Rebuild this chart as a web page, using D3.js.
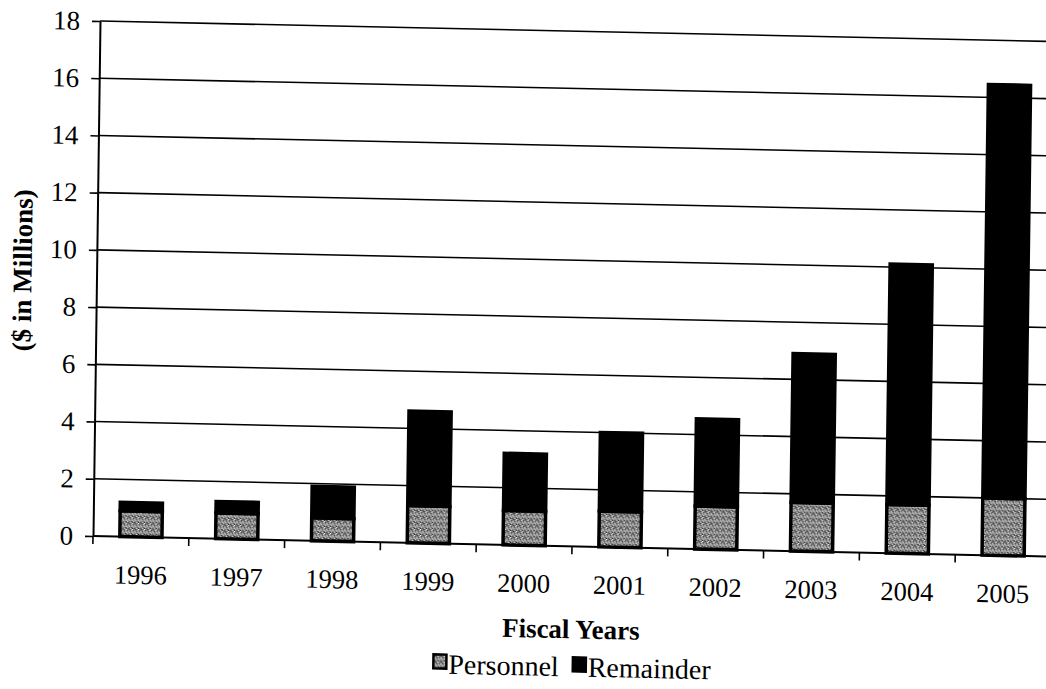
<!DOCTYPE html>
<html>
<head>
<meta charset="utf-8">
<script src="https://cdnjs.cloudflare.com/ajax/libs/d3/7.8.5/d3.min.js"></script>
<style>
  html, body { margin: 0; padding: 0; background: #fff; }
  svg { display: block; }
  svg text { font-family: 'Liberation Serif', 'Times New Roman', Times, 'DejaVu Serif', serif; fill: #000; }
</style>
</head>
<body>
<svg id="chart" width="1046" height="689"></svg>
<script>
// values ($ in millions)
const years = ["1996", "1997", "1998", "1999", "2000", "2001", "2002", "2003", "2004", "2005"];
const personnel = [0.9, 0.9, 0.8, 1.3, 1.2, 1.25, 1.5, 1.7, 1.7, 2.0];
const remainder = [0.3, 0.4, 1.1, 3.3, 2.0, 2.75, 3.05, 5.2, 8.4, 14.45];
const yTicks = [0, 2, 4, 6, 8, 10, 12, 14, 16, 18];
const seriesNames = ["Personnel", "Remainder"];

const serif = "'Liberation Serif', 'Times New Roman', Times, 'DejaVu Serif', serif";
const plotLeft = 93;
const plotRight = 1051;
const plotBottom = 536;
const plotTop = 21;

// the page was scanned a little crooked, so the whole chart is sheared slightly
const skewY = 0.0215;
const skewX = -0.0136;

const svg = d3.select("#chart");

const defs = svg.append("defs");
const pat = defs.append("pattern")
  .attr("id", "stipple")
  .attr("width", 6)
  .attr("height", 6)
  .attr("patternUnits", "userSpaceOnUse");
pat.append("rect").attr("width", 6).attr("height", 6).attr("fill", "#7d7d7d");
const dots = [
  [0, 0, "#fff"], [3, 0, "#222"], [5, 1, "#eee"], [1, 1, "#333"], [2, 2, "#f4f4f4"],
  [4, 2, "#111"], [0, 3, "#ddd"], [3, 3, "#fff"], [5, 4, "#2a2a2a"], [1, 4, "#e8e8e8"],
  [2, 5, "#333"], [4, 5, "#f0f0f0"], [0, 5, "#1c1c1c"], [5, 3, "#cfcfcf"]
];
pat.selectAll(".dot")
  .data(dots)
  .join("rect")
    .attr("class", "dot")
    .attr("x", d => d[0]).attr("y", d => d[1])
    .attr("width", 1).attr("height", 1)
    .attr("fill", d => d[2]);

const root = svg.append("g")
  .attr("transform", `matrix(1, ${skewY}, ${skewX}, 1, ${-skewX * plotBottom}, ${-skewY * plotLeft})`);

const xScale = d3.scaleBand()
  .domain(years)
  .range([plotLeft, plotRight])
  .paddingInner(0.56)
  .paddingOuter(0.28);

const yScale = d3.scaleLinear()
  .domain([0, 18])
  .range([plotBottom, plotTop]);

// horizontal gridlines
root.append("g")
  .selectAll("line")
  .data(yTicks.filter(d => d > 0))
  .join("line")
    .attr("x1", plotLeft).attr("x2", plotRight)
    .attr("y1", d => yScale(d)).attr("y2", d => yScale(d))
    .attr("stroke", "#000")
    .attr("stroke-width", 1.6);

// y axis
const yAxis = d3.axisLeft(yScale).tickValues(yTicks).tickSize(8).tickSizeOuter(0).tickPadding(12);
const yg = root.append("g")
  .attr("transform", `translate(${plotLeft},0)`)
  .call(yAxis)
  .attr("font-family", serif)
  .attr("font-size", 27);
yg.select(".domain").attr("stroke", "#000").attr("stroke-width", 2);
yg.selectAll(".tick line").attr("stroke", "#000").attr("stroke-width", 1.6);
yg.selectAll(".tick text").attr("fill", "#000");

// x axis: baseline and ticks between categories
const step = xScale.step();
const outer = xScale.paddingOuter() * step;
root.append("line")
  .attr("x1", plotLeft).attr("x2", plotRight)
  .attr("y1", plotBottom).attr("y2", plotBottom)
  .attr("stroke", "#000").attr("stroke-width", 2);
root.append("g")
  .selectAll("line")
  .data(years)
  .join("line")
    .attr("x1", d => xScale(d) - outer).attr("x2", d => xScale(d) - outer)
    .attr("y1", plotBottom).attr("y2", plotBottom + 8)
    .attr("stroke", "#000").attr("stroke-width", 1.6);

root.append("g")
  .attr("font-family", serif)
  .attr("font-size", 26.5)
  .selectAll("text")
  .data(years)
  .join("text")
    .attr("x", d => xScale(d) + xScale.bandwidth() / 2)
    .attr("y", 583)
    .attr("text-anchor", "middle")
    .text(d => d);

// stacked bars
const table = years.map((y, i) => ({ year: y, Personnel: personnel[i], Remainder: remainder[i] }));
const stacked = d3.stack().keys(seriesNames)(table);
const fills = { Personnel: "url(#stipple)", Remainder: "#000" };

root.append("g")
  .selectAll("g")
  .data(stacked)
  .join("g")
    .attr("fill", d => fills[d.key])
  .selectAll("rect")
  .data(d => d)
  .join("rect")
    .attr("x", d => xScale(d.data.year))
    .attr("y", d => yScale(d[1]))
    .attr("width", xScale.bandwidth())
    .attr("height", d => yScale(d[0]) - yScale(d[1]))
    .attr("stroke", "#000")
    .attr("stroke-width", 3.5);

// axis titles
root.append("text")
  .attr("x", (plotLeft + plotRight) / 2)
  .attr("y", 628)
  .attr("text-anchor", "middle")
  .attr("font-family", serif)
  .attr("font-size", 27)
  .attr("font-weight", "bold")
  .text("Fiscal Years");

root.append("text")
  .attr("transform", "translate(19,272) rotate(-90)")
  .attr("text-anchor", "middle")
  .attr("dominant-baseline", "central")
  .attr("font-family", serif)
  .attr("font-size", 27)
  .attr("font-weight", "bold")
  .text("($ in Millions)");

// legend
const legend = root.append("g").attr("transform", "translate(434,666)");
let lx = 0;
seriesNames.forEach(name => {
  legend.append("rect")
    .attr("x", lx + 1).attr("y", -19)
    .attr("width", 13).attr("height", 14)
    .attr("fill", fills[name])
    .attr("stroke", "#000").attr("stroke-width", 2.5);
  const t = legend.append("text")
    .attr("x", lx + 16)
    .attr("y", 0)
    .attr("font-family", serif)
    .attr("font-size", 28)
    .text(name);
  lx += 16 + t.node().getComputedTextLength() + 13;
});
</script>
</body>
</html>
